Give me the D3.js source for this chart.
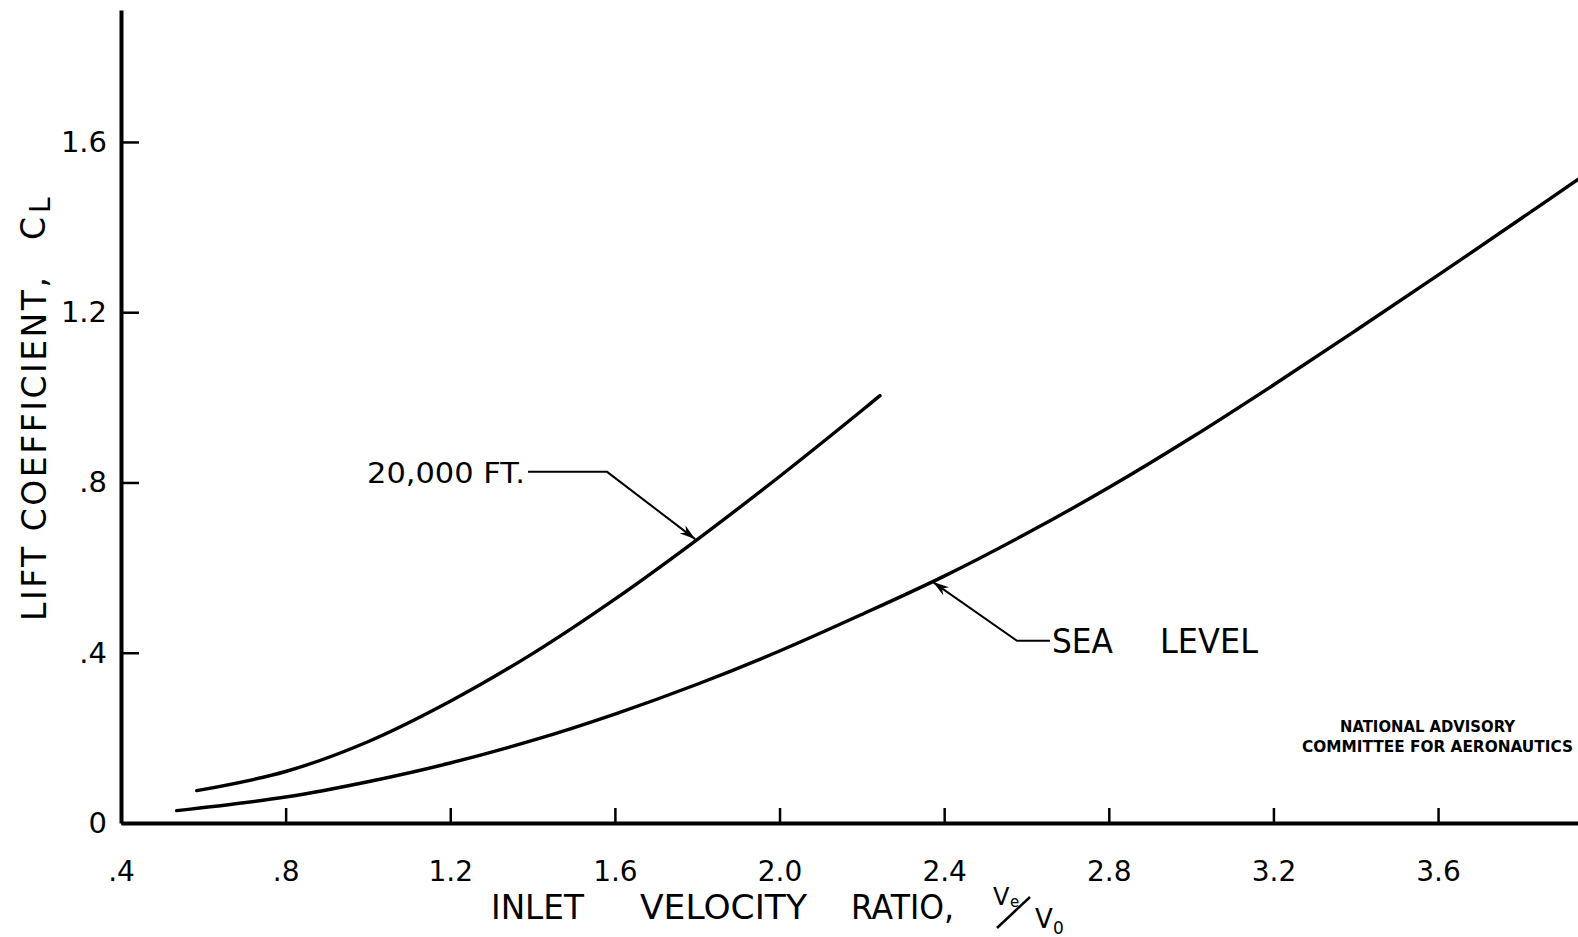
<!DOCTYPE html>
<html>
  <head>
    <meta charset="utf-8">
    <title>Lift coefficient vs inlet velocity ratio</title>
    <style>
      body { margin: 0; background: white; }
      svg { display: block; }
      text { font-family: "DejaVu Sans", sans-serif; fill: black; }
      .curve { fill: none; stroke: black; stroke-width: 3.4; stroke-linecap: round; }
      .leader { fill: none; stroke: black; stroke-width: 2; }
      .axis .domain { stroke: black; stroke-width: 4; }
      .axis line { stroke: black; stroke-width: 2.5; }
      .axis text { font-size: 28px; }
    </style>
  </head>
  <body>
    <svg width="1578" height="937"></svg>
    <script src="https://cdn.jsdelivr.net/npm/d3@7"></script>
    <script>
      // values
      const xTicks = [0.4, 0.8, 1.2, 1.6, 2.0, 2.4, 2.8, 3.2, 3.6];
      const yTicks = [0, 0.4, 0.8, 1.2, 1.6];

      const seaLevelX = [0.535, 0.8, 1.0, 1.2, 1.4, 1.6, 1.8, 2.0, 2.2, 2.4, 2.6, 2.8, 3.0, 3.2, 3.4, 3.6, 3.8, 3.94];
      const seaLevelY = [0.029, 0.061, 0.097, 0.141, 0.194, 0.256, 0.326, 0.404, 0.49, 0.58, 0.68, 0.788, 0.905, 1.029, 1.157, 1.287, 1.419, 1.512];

      const alt20kX = [0.584, 0.8, 1.0, 1.2, 1.4, 1.6, 1.8, 2.0, 2.2, 2.244];
      const alt20kY = [0.076, 0.121, 0.191, 0.286, 0.398, 0.526, 0.666, 0.814, 0.969, 1.004];

      // leader lines: label end -> elbow -> arrow tip (data units)
      const alt20kLeader = [[1.389, 0.825], [1.581, 0.825], [1.795, 0.667]];
      const seaLevelLeader = [[2.657, 0.428], [2.577, 0.428], [2.373, 0.566]];

      const svg = d3.select("svg");
      const width = +svg.attr("width");

      const x = d3.scaleLinear().domain([0.4, 3.94]).range([121, width]);
      const y = d3.scaleLinear().domain([0, 1.91]).range([823, 10]);

      const fmt = d => d === 0 ? "0" : d < 1 ? d3.format(".1f")(d).slice(1) : d3.format(".1f")(d);

      svg.append("g")
        .attr("class", "axis")
        .attr("transform", `translate(0,${y(0)})`)
        .call(d3.axisBottom(x).tickValues(xTicks).tickFormat(fmt)
          .tickSize(-15).tickSizeOuter(0).tickPadding(38));

      const yAxis = svg.append("g")
        .attr("class", "axis")
        .attr("transform", `translate(${x(0.4)},0)`)
        .call(d3.axisLeft(y).tickValues(yTicks).tickFormat(fmt)
          .tickSize(-18).tickSizeOuter(0).tickPadding(14));
      yAxis.selectAll("text").style("font-size", "29px");

      const line = d3.line()
        .x(d => x(d[0]))
        .y(d => y(d[1]))
        .curve(d3.curveCatmullRom.alpha(0.5));

      svg.append("path").attr("class", "curve")
        .attr("d", line(seaLevelX.map((v, i) => [v, seaLevelY[i]])));
      svg.append("path").attr("class", "curve")
        .attr("d", line(alt20kX.map((v, i) => [v, alt20kY[i]])));

      // arrowhead marker
      svg.append("defs").append("marker")
        .attr("id", "arrow")
        .attr("viewBox", "0 0 16 10")
        .attr("refX", 16).attr("refY", 5)
        .attr("markerWidth", 16).attr("markerHeight", 10)
        .attr("markerUnits", "userSpaceOnUse")
        .attr("orient", "auto")
        .append("path")
          .attr("d", "M0,0 L16,5 L0,10 L5,5 Z")
          .attr("fill", "black");

      const leader = d3.line().x(d => x(d[0])).y(d => y(d[1]));
      [alt20kLeader, seaLevelLeader].forEach(pts => {
        svg.append("path").attr("class", "leader")
          .attr("d", leader(pts))
          .attr("marker-end", "url(#arrow)");
      });

      // curve labels
      svg.append("text")
        .attr("x", 367).attr("y", 483)
        .attr("textLength", 158).attr("lengthAdjust", "spacingAndGlyphs")
        .style("font-size", "28px")
        .text("20,000 FT.");
      svg.append("text")
        .attr("x", 1052).attr("y", 653)
        .attr("textLength", 61).attr("lengthAdjust", "spacingAndGlyphs")
        .style("font-size", "33px")
        .text("SEA");
      svg.append("text")
        .attr("x", 1160).attr("y", 653)
        .attr("textLength", 98).attr("lengthAdjust", "spacingAndGlyphs")
        .style("font-size", "33px")
        .text("LEVEL");

      // x axis title
      [["INLET", 491, 93], ["VELOCITY", 640, 167], ["RATIO,", 851, 103]].forEach(([t, px, len]) => {
        svg.append("text")
          .attr("x", px).attr("y", 919)
          .attr("textLength", len).attr("lengthAdjust", "spacingAndGlyphs")
          .style("font-size", "33px")
          .text(t);
      });
      const frac = svg.append("g");
      frac.append("text").attr("x", 993).attr("y", 905).style("font-size", "24px").text("V");
      frac.append("text").attr("x", 1010).attr("y", 907).style("font-size", "15px").text("e");
      frac.append("line")
        .attr("x1", 997).attr("y1", 928).attr("x2", 1030).attr("y2", 897)
        .attr("stroke", "black").attr("stroke-width", 2.5);
      frac.append("text").attr("x", 1035).attr("y", 928).style("font-size", "26px").text("V");
      frac.append("text").attr("x", 1053).attr("y", 934).style("font-size", "17px").text("0");

      // y axis title
      svg.append("text")
        .attr("transform", "translate(46,621) rotate(-90)")
        .attr("textLength", 344).attr("lengthAdjust", "spacing")
        .style("font-size", "33px")
        .text("LIFT COEFFICIENT,");
      svg.append("text")
        .attr("transform", "translate(45,240) rotate(-90)")
        .style("font-size", "33px")
        .text("C");
      svg.append("text")
        .attr("transform", "translate(50,213) rotate(-90)")
        .style("font-size", "28px")
        .text("L");

      // NACA stamp
      svg.append("text")
        .attr("x", 1340).attr("y", 732)
        .attr("textLength", 175).attr("lengthAdjust", "spacingAndGlyphs")
        .style("font-size", "15px").style("font-weight", "bold")
        .text("NATIONAL ADVISORY");
      svg.append("text")
        .attr("x", 1302).attr("y", 752)
        .attr("textLength", 271).attr("lengthAdjust", "spacingAndGlyphs")
        .style("font-size", "15px").style("font-weight", "bold")
        .text("COMMITTEE FOR AERONAUTICS");
    </script>
  </body>
</html>
